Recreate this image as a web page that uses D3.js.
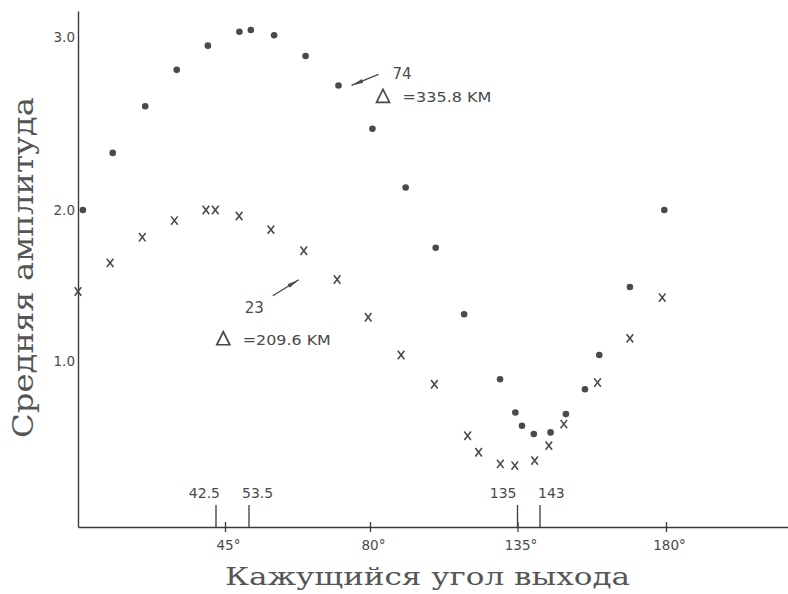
<!DOCTYPE html>
<html lang="ru">
<head>
<meta charset="utf-8">
<title>Средняя амплитуда</title>
<script src="https://cdn.jsdelivr.net/npm/d3@7"></script>
<style>
  html, body { margin: 0; padding: 0; background: #fff; }
  svg { display: block; }
</style>
</head>
<body>
<svg id="chart" width="788" height="594"></svg>
<script>
// Station 74 (Δ = 335.8 km): emergence angle (deg) and mean amplitude
const angles74 = [1.5, 10.7, 20.7, 30.4, 40.0, 50.1, 53.9, 59.0, 65.9, 73.1, 80.9, 93.3,
                  104.5, 115.1, 128.5, 134.2, 136.6, 140.8, 146.1, 150.6, 156.2, 160.4, 169.4, 179.5];
const amp74    = [2.00, 2.33, 2.60, 2.81, 2.95, 3.03, 3.04, 3.01, 2.89, 2.72, 2.47, 2.13,
                  1.75, 1.31, 0.89, 0.69, 0.61, 0.56, 0.57, 0.68, 0.83, 1.04, 1.49, 2.00];

// Station 23 (Δ = 209.6 km)
const angles23 = [0, 9.9, 19.8, 29.7, 39.4, 42.3, 50.0, 58.3, 65.5, 72.8, 79.6, 91.6,
                  104.0, 116.4, 120.5, 128.6, 134.0, 141.1, 145.6, 150.0, 159.9, 169.4, 178.9];
const amp23    = [1.46, 1.65, 1.82, 1.93, 2.00, 2.00, 1.96, 1.87, 1.73, 1.54, 1.29, 1.04,
                  0.86, 0.55, 0.45, 0.38, 0.37, 0.40, 0.49, 0.62, 0.87, 1.15, 1.42];

// Axis ticks and marked angles
const xTicks = [45, 80, 135, 180];
const yTicks = [1.0, 2.0, 3.0];
const markAngles = [42.5, 53.5, 135, 143];
const markLabels = ["42.5", "53.5", "135", "143"];

// Annotation texts
const stationLabels = ["74", "23"];
const distLabels = ["=335.8 KM", "=209.6 KM"];
const xTitle = "Кажущийся угол выхода";
const yTitle = "Средняя амплитуда";

const ink = "#4a4a4a";
const svg = d3.select("#chart");

// The hand-drawn axis is not uniform, so both scales are piecewise linear
const x = d3.scaleLinear()
  .domain([0, 42.5, 45, 53.5, 80, 135, 143, 180, 216])
  .range([78, 216, 225, 249, 370, 517.5, 540, 666, 788]);

const y = d3.scaleLinear()
  .domain([0, 1, 2, 3, 3.15])
  .range([527, 361, 210, 37, 11]);

const labelFont = "'DejaVu Sans', sans-serif";

// ---- axes ----
const xAxis = svg.append("g")
  .attr("transform", `translate(0,${y(0)})`)
  .call(d3.axisBottom(x).tickValues(xTicks).tickSizeOuter(0).tickSize(0).tickFormat(d => d + "°"));
xAxis.select(".domain").attr("stroke", "#3a3a3a").attr("stroke-width", 1.4);
xAxis.selectAll(".tick line").attr("y1", -5).attr("y2", 5).attr("stroke", "#3a3a3a").attr("stroke-width", 1.3);
xAxis.selectAll(".tick text")
  .attr("y", 23).attr("dy", 0).attr("dx", 3)
  .attr("fill", ink)
  .style("font-family", labelFont)
  .style("font-size", "13.5px");

const yAxis = svg.append("g")
  .attr("transform", `translate(${x(0)},0)`)
  .call(d3.axisLeft(y).tickValues(yTicks).tickSizeOuter(0).tickSize(0).tickPadding(3).tickFormat(d3.format(".1f")));
yAxis.select(".domain").attr("stroke", "#3a3a3a").attr("stroke-width", 1.4);
yAxis.selectAll(".tick text")
  .attr("fill", ink)
  .style("font-family", labelFont)
  .style("font-size", "13.5px");

// ---- marked angles above the x axis ----
const marks = svg.append("g");
markAngles.forEach((a, i) => {
  marks.append("line")
    .attr("x1", x(a)).attr("x2", x(a))
    .attr("y1", y(0) - 22).attr("y2", y(0))
    .attr("stroke", "#3a3a3a").attr("stroke-width", 1.3);
  const first = i % 2 === 0;
  marks.append("text")
    .attr("x", x(a) + (first ? (i === 0 ? 4 : -1) : (i === 1 ? -7 : -2)))
    .attr("y", y(0) - 29)
    .attr("text-anchor", first ? "end" : "start")
    .attr("fill", ink)
    .style("font-family", labelFont)
    .style("font-size", "14px")
    .text(markLabels[i]);
});

// ---- data marks ----
const pts74 = angles74.map((a, i) => ({ a, v: amp74[i] }));
const pts23 = angles23.map((a, i) => ({ a, v: amp23[i] }));

svg.append("g").selectAll("circle")
  .data(pts74)
  .join("circle")
  .attr("cx", d => x(d.a))
  .attr("cy", d => y(d.v))
  .attr("r", 3.3)
  .attr("fill", ink);

const cross = "M-3.3,-4.2L3.3,4.2M3.3,-4.2L-3.3,4.2";
svg.append("g").selectAll("path")
  .data(pts23)
  .join("path")
  .attr("transform", d => `translate(${x(d.a)},${y(d.v)})`)
  .attr("d", cross)
  .attr("fill", "none")
  .attr("stroke", ink)
  .attr("stroke-width", 1.6);

// ---- annotations ----
svg.append("defs").append("marker")
  .attr("id", "head")
  .attr("viewBox", "0 0 12 6")
  .attr("refX", 12).attr("refY", 3)
  .attr("markerWidth", 12).attr("markerHeight", 6)
  .attr("markerUnits", "userSpaceOnUse")
  .attr("orient", "auto")
  .append("path")
  .attr("d", "M0,1L12,3L0,5Z")
  .attr("fill", ink);

function annotate(pt, o, station, dist) {
  const px = x(pt.a), py = y(pt.v);
  const g = svg.append("g").attr("fill", ink).style("font-family", labelFont);
  g.append("line")
    .attr("x1", px + o.ax1).attr("y1", py + o.ay1)
    .attr("x2", px + o.ax2).attr("y2", py + o.ay2)
    .attr("stroke", ink).attr("stroke-width", 1.4)
    .attr("marker-end", "url(#head)");
  g.append("text")
    .attr("x", px + o.sx).attr("y", py + o.sy)
    .style("font-size", "15px")
    .text(station);
  // open triangle for Δ
  const tx = px + o.dx, ty = py + o.dy;
  g.append("path")
    .attr("d", `M${tx},${ty}L${tx + 13},${ty}L${tx + 6.5},${ty - 13}Z`)
    .attr("fill", "none").attr("stroke", ink).attr("stroke-width", 1.7);
  g.append("text")
    .attr("x", tx + 26).attr("y", ty)
    .style("font-size", "14.5px")
    .attr("textLength", o.len).attr("lengthAdjust", "spacingAndGlyphs")
    .text(dist);
}

annotate(pts74[9], { ax1: 40, ay1: -11, ax2: 13, ay2: 0, sx: 54, sy: -6, dx: 38, dy: 17, len: 89 },
  stationLabels[0], distLabels[0]);
annotate(pts23[8], { ax1: -31, ay1: 45, ax2: -5, ay2: 29, sx: -59, sy: 62, dx: -87, dy: 94, len: 88 },
  stationLabels[1], distLabels[1]);

// ---- axis titles ----
svg.append("text")
  .attr("x", 225).attr("y", 585)
  .attr("textLength", 405).attr("lengthAdjust", "spacingAndGlyphs")
  .attr("fill", "#555")
  .style("font-family", "'DejaVu Serif', serif")
  .style("font-size", "24px")
  .text(xTitle);

svg.append("text")
  .attr("transform", "translate(33,438) rotate(-90)")
  .attr("textLength", 341).attr("lengthAdjust", "spacingAndGlyphs")
  .attr("fill", "#555")
  .style("font-family", "'DejaVu Serif', serif")
  .style("font-size", "27px")
  .text(yTitle);
</script>
</body>
</html>
